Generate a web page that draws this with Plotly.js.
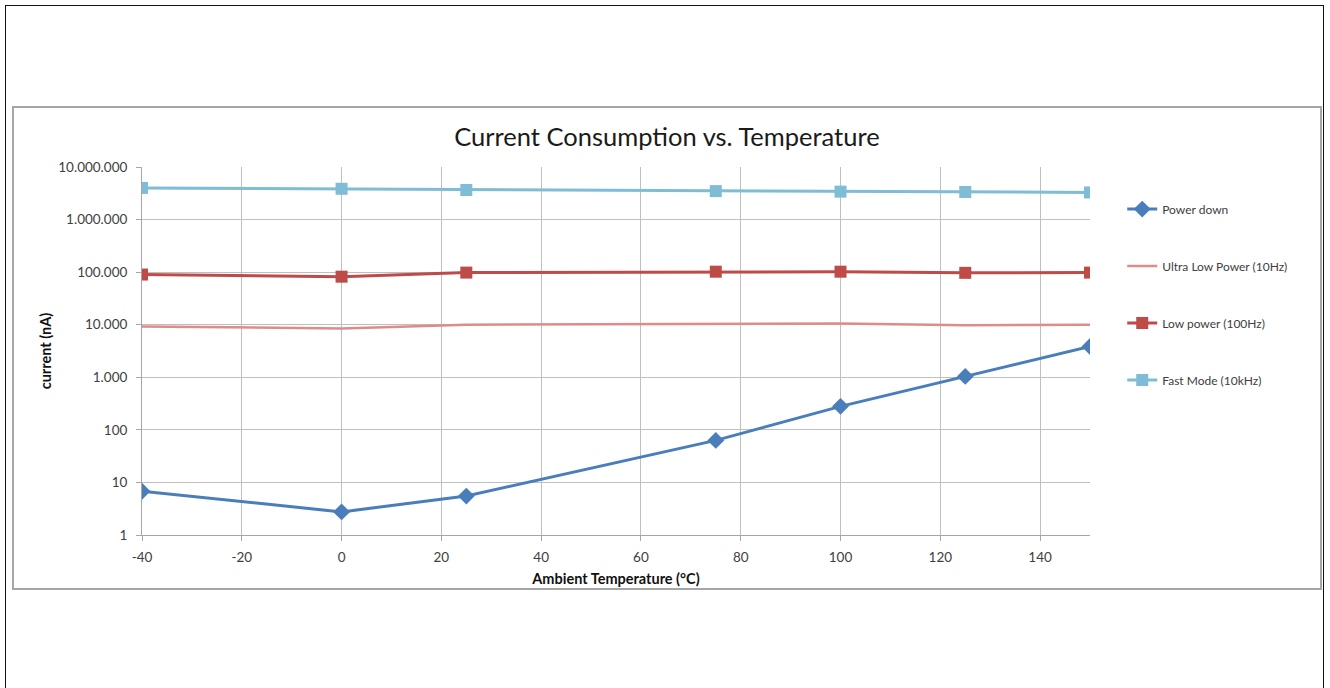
<!DOCTYPE html>
<html>
<head>
<meta charset="utf-8">
<script src="https://cdn.plot.ly/plotly-3.0.1.min.js"></script>
<style>
  html, body { margin: 0; padding: 0; background: #fff; width: 1330px; height: 688px; overflow: hidden; }
  #frame { position: absolute; left: 5px; top: 5px; width: 1319px; height: 700px; border: 1.5px solid #111; box-sizing: border-box; }
  #chart { position: absolute; left: 12px; top: 106px; width: 1310px; height: 484px; border: 2px solid #a6a6a6; box-sizing: border-box; background: #fff; }
</style>
</head>
<body>
<div id="frame"></div>
<div id="chart"></div>
<script>
// Data
const temperatures = [-40, 0, 25, 75, 100, 125, 150];
const powerDown    = [6.8, 2.75, 5.5, 63, 280, 1040, 3850];
const ultraLowPower = [9250, 8500, 10000, 10500, 10500, 9800, 10000];
const lowPower     = [90000, 82000, 98000, 102000, 102000, 97000, 98000];
const fastMode     = [4000000, 3850000, 3650000, 3480000, 3400000, 3350000, 3280000];

const seriesNames = ['Power down', 'Ultra Low Power (10Hz)', 'Low power (100Hz)', 'Fast Mode (10kHz)'];
const yTickVals = [1, 10, 100, 1000, 10000, 100000, 1000000, 10000000];
const yTickText = ['1', '10', '100', '1.000', '10.000', '100.000', '1.000.000', '10.000.000'];
const xTickVals = [-40, -20, 0, 20, 40, 60, 80, 100, 120, 140];
const xTickText = ['-40', '-20', '0', '20', '40', '60', '80', '100', '120', '140'];

const FONT = 'Lato, "Open Sans", sans-serif';

const traces = [
  { x: temperatures, y: powerDown, name: seriesNames[0], legendgroup: 'a', mode: 'lines+markers',
    line: { color: '#4a7ebb', width: 3 }, marker: { symbol: 'diamond', size: 13, color: '#4a7ebb' } },
  { x: temperatures, y: ultraLowPower, name: seriesNames[1], legendgroup: 'b', mode: 'lines',
    line: { color: '#de8c89', width: 2.5 } },
  { x: temperatures, y: lowPower, name: seriesNames[2], legendgroup: 'c', mode: 'lines+markers',
    line: { color: '#be4b48', width: 3 }, marker: { symbol: 'square', size: 12, color: '#be4b48' } },
  { x: temperatures, y: fastMode, name: seriesNames[3], legendgroup: 'd', mode: 'lines+markers',
    line: { color: '#7fbcd6', width: 3 }, marker: { symbol: 'square', size: 12, color: '#7fbcd6' } }
];

const layout = {
  width: 1306, height: 480,
  margin: { l: 128, r: 230, t: 59, b: 53 },
  paper_bgcolor: '#fff', plot_bgcolor: '#fff',
  font: { family: FONT, color: '#404040', size: 13 },
  title: { text: 'Current Consumption vs. Temperature', font: { family: FONT, size: 25.5, color: '#1a1a1a' },
           x: 0.5, xref: 'container', xanchor: 'center', y: 0.94, yref: 'container', yanchor: 'middle' },
  showlegend: true,
  legend: { x: 1.034, xanchor: 'left', y: 0.925, yanchor: 'top', traceorder: 'grouped', tracegroupgap: 38,
            font: { family: FONT, size: 12, color: '#404040' }, bgcolor: 'rgba(0,0,0,0)' },
  xaxis: {
    range: [-40, 150], tickvals: xTickVals, ticktext: xTickText, ticks: 'outside', ticklen: 5, tickcolor: '#a6a6a6',
    ticklabelstandoff: 5,
    showgrid: true, gridcolor: '#bfbfbf', gridwidth: 1, zeroline: false,
    showline: true, linecolor: '#a6a6a6', linewidth: 1,
    tickfont: { family: FONT, size: 13.5, color: '#404040' },
    title: { text: 'Ambient Temperature (°C)', font: { family: FONT, size: 14.5, color: '#111', weight: 'bold' }, standoff: 9 }
  },
  yaxis: {
    type: 'log', range: [0, 7], tickvals: yTickVals, ticktext: yTickText, ticks: 'outside', ticklen: 5, tickcolor: '#a6a6a6',
    ticklabelstandoff: 6,
    showgrid: true, gridcolor: '#bfbfbf', gridwidth: 1, zeroline: false,
    showline: true, linecolor: '#a6a6a6', linewidth: 1,
    tickfont: { family: FONT, size: 13.5, color: '#404040' },
    title: { text: 'current (nA)', font: { family: FONT, size: 14.5, color: '#111', weight: 'bold' }, standoff: 3 }
  }
};

Plotly.newPlot('chart', traces, layout, { displayModeBar: false, staticPlot: true });
</script>
</body>
</html>
